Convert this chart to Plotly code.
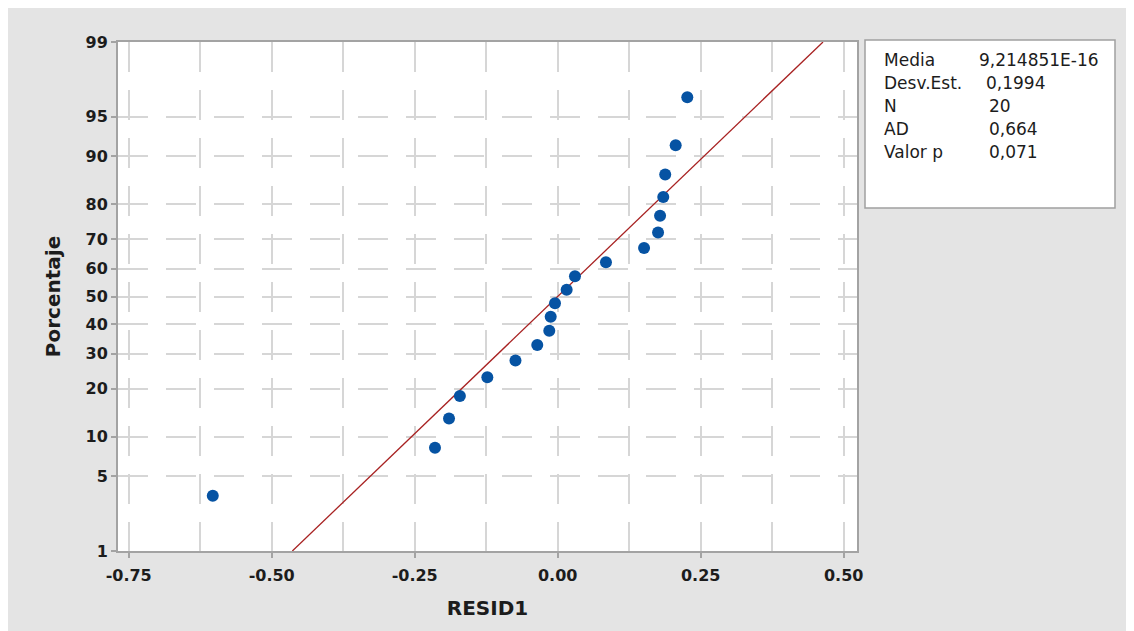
import plotly.graph_objects as go
from statistics import NormalDist

# ---- data ----
resid = [-0.603, -0.2145, -0.190, -0.171, -0.123, -0.0738, -0.0357, -0.0147, -0.0122, -0.0047,
         0.0157, 0.0302, 0.0844, 0.151, 0.1755, 0.179, 0.1846, 0.188, 0.2063, 0.2266]
percent = [3.43, 8.33, 13.24, 18.14, 23.04, 27.94, 32.84, 37.75, 42.65, 47.55,
           52.45, 57.35, 62.25, 67.16, 72.06, 76.96, 81.86, 86.76, 91.67, 96.57]
fit_mean = 9.214851e-16
fit_sd = 0.1994
fit_pct = [1, 99]
pct_ticks = [1, 5, 10, 20, 30, 40, 50, 60, 70, 80, 90, 95, 99]
x_ticks = [-0.75, -0.50, -0.25, 0.00, 0.25, 0.50]
x_tick_labels = ["-0.75", "-0.50", "-0.25", "0.00", "0.25", "0.50"]
x_range = [-0.7687, 0.5233]
stat_labels = ["Media", "Desv.Est.", "N", "AD", "Valor p"]
stat_values = ["9,214851E-16", "0,1994", "20", "0,664", "0,071"]

nd = NormalDist()
def z(p):
    return nd.inv_cdf(p / 100.0)

OFF = 8  # page body margin
W, H = 1134 - OFF, 631 - OFF
L, R, T, B = 118 - OFF, 857 - OFF, 42 - OFF, 551 - OFF
def px(x):
    return (x - OFF - L) / (R - L)
def py(y):
    return (B - (y - OFF)) / (B - T)

grid_col = "#d6d6d6"
axis_col = "#a3a3a3"
txt_col = "#1c1c1c"
fontfam = "DejaVu Sans"

fig = go.Figure()

fig.add_trace(go.Scatter(
    x=[fit_mean + fit_sd * z(p) for p in fit_pct],
    y=[z(p) for p in fit_pct],
    mode="lines", line=dict(color="#a82222", width=1.3),
    hoverinfo="skip", showlegend=False))

fig.add_trace(go.Scatter(
    x=resid, y=[z(p) for p in percent],
    mode="markers",
    marker=dict(color="#0653a3", size=12, symbol="circle"),
    showlegend=False))

fig.update_layout(
    width=W, height=H,
    margin=dict(l=L, r=W - R, t=T, b=H - B, pad=0),
    paper_bgcolor="#e4e4e4", plot_bgcolor="white",
    showlegend=False,
    font=dict(family=fontfam, color=txt_col),
)

minor_x = [(a + b) / 2 for a, b in zip(x_ticks[:-1], x_ticks[1:])]

fig.update_xaxes(
    range=x_range, tickmode="array", tickvals=x_ticks, ticktext=x_tick_labels,
    showgrid=True, gridcolor=grid_col, gridwidth=2, griddash="30px,18px",
    minor=dict(tickmode="array", tickvals=minor_x, showgrid=True, gridcolor=grid_col,
               gridwidth=2, griddash="30px,18px", ticks=""),
    zeroline=False, showline=True, mirror=True, linecolor=axis_col, linewidth=2,
    ticks="outside", ticklen=5, tickwidth=2, tickcolor=axis_col, ticklabelstandoff=4,
    tickfont=dict(family=fontfam, size=16, weight="bold", color=txt_col),
    title=dict(text="RESID1", font=dict(family=fontfam, size=20, weight="bold", color=txt_col),
               standoff=17),
)

fig.update_yaxes(
    range=[z(1), z(99)], tickmode="array",
    tickvals=[z(p) for p in pct_ticks], ticktext=[str(p) for p in pct_ticks],
    showgrid=True, gridcolor=grid_col, gridwidth=2, griddash="30px,18px",
    zeroline=False, showline=True, mirror=True, linecolor=axis_col, linewidth=2,
    ticks="outside", ticklen=5, tickwidth=2, tickcolor=axis_col,
    tickfont=dict(family=fontfam, size=16, weight="bold", color=txt_col),
    title=dict(text="Porcentaje", font=dict(family=fontfam, size=20, weight="bold", color=txt_col),
               standoff=20),
)

# statistics box
fig.add_shape(type="rect", xref="paper", yref="paper",
              x0=px(865), x1=px(1115), y0=py(208), y1=py(40),
              fillcolor="white", line=dict(color="#a0a0a0", width=1.5))

row_y = [60, 83, 106, 129, 152]
val_x = [977, 984, 987, 987, 987]
for i, (lab, val) in enumerate(zip(stat_labels, stat_values)):
    fig.add_annotation(xref="paper", yref="paper", x=px(882), y=py(row_y[i]),
                       text=lab, showarrow=False, xanchor="left", yanchor="middle",
                       font=dict(family=fontfam, size=17, color=txt_col))
    fig.add_annotation(xref="paper", yref="paper", x=px(val_x[i]), y=py(row_y[i]),
                       text=val, showarrow=False, xanchor="left", yanchor="middle",
                       font=dict(family=fontfam, size=17, color=txt_col))

fig.write_html("out.html")
